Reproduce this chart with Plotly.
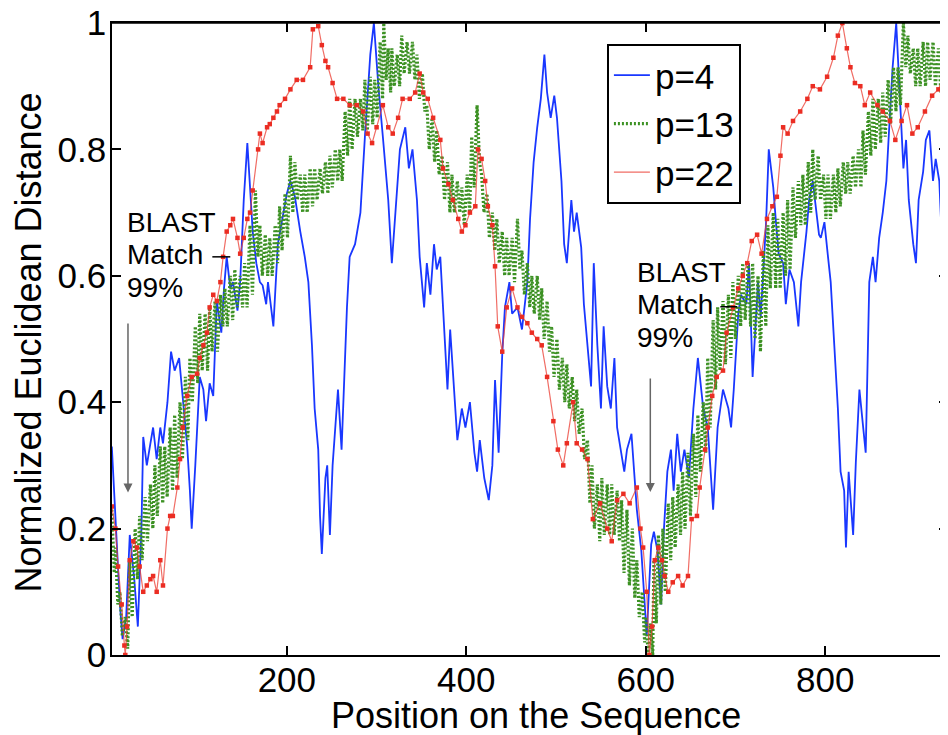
import plotly.graph_objects as go

# ---------------- data ----------------
blue_x = [5, 9, 12, 14, 17, 21, 25, 30, 34, 38, 40, 44, 48, 51, 55, 59, 62, 67, 71, 75,
          80, 84, 89, 92, 94, 98, 100, 103, 107, 110, 114, 118, 122, 127, 130, 133, 137, 140, 145, 148,
          152, 156, 159, 162, 166, 170, 173, 177, 179, 185, 190, 196, 200, 204, 209, 215, 220, 224, 228, 231,
          235, 237, 239, 243, 245, 248, 251, 257, 261, 267, 270, 276, 282, 287, 293, 297, 302, 307, 313, 317,
          323, 326, 332, 336, 340, 345, 348, 353, 356, 360, 364, 367, 371, 375, 379, 382, 386, 390, 395, 399,
          404, 409, 412, 415, 420, 425, 429, 432, 436, 440, 443, 448, 451, 457, 462, 468, 471, 475, 479, 483,
          487, 490, 494, 498, 501, 506, 509, 512, 517, 520, 523, 528, 531, 535, 539, 542, 546, 550, 553, 557,
          561, 565, 568, 572, 576, 579, 584, 587, 590, 595, 598, 601, 606, 609, 613, 617, 620, 624, 628, 631,
          635, 639, 643, 648, 653, 658, 664, 669, 675, 680, 686, 692, 695, 698, 703, 706, 712, 715, 719, 725,
          728, 734, 737, 742, 745, 748, 753, 756, 760, 765, 770, 773, 779, 782, 786, 790, 793, 795, 799, 803,
          806, 810, 814, 817, 821, 823, 826, 831, 834, 838, 842, 845, 849, 853, 856, 860, 864, 868, 871, 875,
          879, 882, 887, 890, 893, 898, 901, 904, 909, 912, 916, 920, 923, 927, 931, 935, 939]
blue_y = [0.33, 0.22, 0.15, 0.08, 0.025, 0.06, 0.19, 0.12, 0.045, 0.20, 0.345, 0.30, 0.335, 0.36, 0.31, 0.36, 0.335, 0.40, 0.48, 0.45,
          0.47, 0.41, 0.33, 0.26, 0.20, 0.30, 0.36, 0.44, 0.42, 0.37, 0.43, 0.41, 0.56, 0.51, 0.58, 0.63, 0.58, 0.59, 0.545, 0.59,
          0.72, 0.81, 0.74, 0.67, 0.62, 0.59, 0.585, 0.555, 0.59, 0.52, 0.65, 0.70, 0.73, 0.75, 0.725, 0.67, 0.63, 0.59, 0.49, 0.39,
          0.325, 0.22, 0.16, 0.28, 0.30, 0.19, 0.30, 0.42, 0.325, 0.55, 0.63, 0.65, 0.70, 0.82, 0.95, 1.0, 0.90, 0.82, 0.72, 0.62,
          0.74, 0.80, 0.835, 0.77, 0.80, 0.72, 0.63, 0.55, 0.62, 0.57, 0.65, 0.61, 0.63, 0.52, 0.42, 0.515, 0.435, 0.34, 0.39, 0.36,
          0.40, 0.32, 0.29, 0.34, 0.28, 0.245, 0.30, 0.435, 0.32, 0.475, 0.55, 0.59, 0.54, 0.55, 0.515, 0.59, 0.69, 0.78, 0.835, 0.88,
          0.95, 0.89, 0.85, 0.885, 0.85, 0.75, 0.65, 0.62, 0.72, 0.67, 0.70, 0.645, 0.555, 0.49, 0.425, 0.62, 0.49, 0.39, 0.52, 0.425,
          0.39, 0.47, 0.36, 0.325, 0.29, 0.325, 0.35, 0.29, 0.23, 0.165, 0.10, 0.03, 0.175, 0.195, 0.165, 0.08, 0.195, 0.29, 0.325, 0.26,
          0.35, 0.29, 0.325, 0.28, 0.39, 0.47, 0.39, 0.36, 0.23, 0.36, 0.42, 0.39, 0.36, 0.42, 0.54, 0.57, 0.555, 0.62, 0.44, 0.59,
          0.535, 0.685, 0.80, 0.74, 0.685, 0.635, 0.62, 0.555, 0.61, 0.59, 0.52, 0.59, 0.67, 0.72, 0.75, 0.70, 0.665, 0.66, 0.685, 0.63,
          0.59, 0.49, 0.39, 0.29, 0.26, 0.17, 0.29, 0.19, 0.305, 0.42, 0.36, 0.32, 0.59, 0.63, 0.59, 0.66, 0.70, 0.75, 0.83, 0.93,
          1.0, 0.915, 0.77, 0.815, 0.72, 0.65, 0.62, 0.72, 0.765, 0.815, 0.83, 0.75, 0.785, 0.75, 0.62, 0.555, 0.55]

green_x = [5, 9, 14, 20, 25, 31, 36, 42, 48, 53, 59, 64, 70, 75, 81, 87, 92, 98, 103, 109,
           114, 120, 126, 131, 137, 142, 148, 153, 159, 165, 170, 176, 181, 187, 192, 198, 204, 209, 215, 220,
           226, 231, 237, 243, 248, 254, 259, 265, 270, 276, 282, 287, 293, 298, 304, 308, 313, 317, 323, 328,
           334, 340, 345, 351, 356, 362, 367, 373, 379, 384, 390, 395, 401, 406, 412, 417, 423, 429, 434, 440,
           445, 451, 457, 462, 468, 473, 479, 484, 490, 495, 501, 507, 512, 518, 523, 529, 535, 540, 546, 551,
           557, 562, 568, 573, 579, 585, 590, 596, 600, 605, 609, 614, 619, 625, 630, 636, 641, 647, 653, 658,
           664, 669, 675, 680, 686, 692, 697, 703, 708, 714, 719, 725, 731, 736, 742, 747, 753, 758, 764, 770,
           775, 781, 786, 792, 798, 803, 809, 814, 820, 825, 831, 837, 842, 848, 853, 859, 864, 870, 876, 881,
           887, 892, 898, 903, 909, 914, 920, 926, 931]
green_hi = [0.23, 0.17, 0.10, 0.06, 0.15, 0.20, 0.22, 0.25, 0.27, 0.30, 0.33, 0.33, 0.36, 0.38, 0.40, 0.44, 0.47, 0.52, 0.54, 0.54,
            0.55, 0.56, 0.57, 0.58, 0.60, 0.61, 0.60, 0.62, 0.68, 0.735, 0.68, 0.665, 0.66, 0.68, 0.71, 0.73, 0.79, 0.78, 0.76, 0.76,
            0.77, 0.77, 0.77, 0.78, 0.79, 0.80, 0.80, 0.86, 0.88, 0.88, 0.88, 0.91, 0.915, 0.91, 0.97, 1.0, 0.96, 0.96, 0.95, 0.98,
            0.97, 0.97, 0.95, 0.92, 0.87, 0.85, 0.83, 0.79, 0.78, 0.76, 0.75, 0.74, 0.76, 0.82, 0.87, 0.76, 0.73, 0.70, 0.69, 0.67,
            0.66, 0.66, 0.69, 0.64, 0.62, 0.60, 0.60, 0.58, 0.56, 0.52, 0.50, 0.47, 0.46, 0.44, 0.42, 0.39, 0.34, 0.30, 0.27, 0.28,
            0.27, 0.27, 0.26, 0.245, 0.23, 0.20, 0.15, 0.10, 0.06, 0.05, 0.15, 0.19, 0.20, 0.24, 0.25, 0.27, 0.29, 0.32, 0.35, 0.38,
            0.40, 0.47, 0.53, 0.55, 0.56, 0.57, 0.59, 0.60, 0.62, 0.62, 0.62, 0.60, 0.64, 0.68, 0.70, 0.69, 0.70, 0.72, 0.74, 0.75,
            0.76, 0.78, 0.80, 0.79, 0.76, 0.76, 0.76, 0.77, 0.78, 0.78, 0.79, 0.80, 0.83, 0.86, 0.88, 0.88, 0.89, 0.91, 0.93, 0.93,
            1.0, 0.98, 0.96, 0.96, 0.97, 0.97, 0.97, 0.96, 0.95]
green_lo = [0.13, 0.08, 0.03, 0.01, 0.06, 0.12, 0.15, 0.18, 0.20, 0.22, 0.24, 0.25, 0.26, 0.28, 0.31, 0.34, 0.40, 0.43, 0.45, 0.45,
            0.48, 0.48, 0.52, 0.52, 0.53, 0.55, 0.55, 0.55, 0.57, 0.63, 0.60, 0.60, 0.60, 0.62, 0.64, 0.66, 0.70, 0.72, 0.70, 0.70,
            0.71, 0.72, 0.73, 0.73, 0.74, 0.75, 0.75, 0.79, 0.80, 0.82, 0.83, 0.83, 0.84, 0.85, 0.88, 0.91, 0.89, 0.90, 0.90, 0.92,
            0.92, 0.91, 0.88, 0.86, 0.80, 0.78, 0.76, 0.72, 0.70, 0.70, 0.70, 0.68, 0.70, 0.74, 0.78, 0.70, 0.66, 0.64, 0.62, 0.60,
            0.60, 0.59, 0.61, 0.57, 0.55, 0.54, 0.53, 0.50, 0.48, 0.44, 0.42, 0.40, 0.39, 0.37, 0.35, 0.31, 0.24, 0.20, 0.18, 0.19,
            0.19, 0.19, 0.18, 0.13, 0.11, 0.09, 0.06, 0.02, 0.0, 0.0, 0.05, 0.08, 0.10, 0.15, 0.17, 0.19, 0.20, 0.22, 0.25, 0.29,
            0.32, 0.36, 0.42, 0.45, 0.46, 0.47, 0.50, 0.52, 0.53, 0.52, 0.50, 0.48, 0.52, 0.58, 0.58, 0.58, 0.60, 0.61, 0.66, 0.68,
            0.68, 0.70, 0.72, 0.72, 0.69, 0.69, 0.70, 0.71, 0.73, 0.73, 0.74, 0.74, 0.76, 0.79, 0.80, 0.81, 0.82, 0.84, 0.86, 0.87,
            0.93, 0.92, 0.90, 0.90, 0.90, 0.91, 0.90, 0.89, 0.86]

red_x = [5, 9, 12, 16, 19, 20, 22, 25, 29, 33, 36, 40, 44, 48, 51, 55, 59, 62, 67, 70,
         73, 78, 81, 84, 89, 94, 100, 103, 107, 111, 114, 118, 122, 126, 129, 133, 137, 140, 145, 148,
         152, 156, 159, 162, 168, 170, 173, 178, 181, 185, 189, 192, 198, 204, 211, 218, 226, 229, 235, 239,
         243, 246, 251, 256, 263, 270, 278, 285, 290, 295, 300, 307, 313, 318, 324, 329, 337, 343, 348, 352,
         357, 363, 371, 374, 380, 385, 391, 395, 399, 404, 410, 413, 417, 421, 424, 429, 432, 435, 440, 445,
         451, 457, 462, 468, 473, 479, 484, 490, 497, 502, 508, 512, 519, 523, 529, 535, 541, 549, 557, 562,
         568, 575, 582, 590, 594, 597, 601, 604, 607, 610, 614, 618, 621, 625, 630, 636, 641, 647, 651, 657,
         660, 666, 669, 674, 679, 686, 690, 697, 703, 708, 713, 718, 724, 729, 735, 741, 746, 750, 753, 758,
         764, 772, 780, 786, 794, 802, 809, 814, 819, 824, 828, 833, 839, 844, 850, 858, 864, 872, 878, 885,
         891, 897, 903, 911, 919, 926, 933, 939]
red_y = [0.235, 0.20, 0.14, 0.08, 0.015, 0.0, 0.045, 0.15, 0.18, 0.17, 0.14, 0.10, 0.11, 0.12, 0.125, 0.10, 0.15, 0.11, 0.20, 0.22,
         0.22, 0.265, 0.31, 0.36, 0.41, 0.44, 0.445, 0.47, 0.49, 0.51, 0.55, 0.57, 0.56, 0.59, 0.63, 0.67, 0.68, 0.69, 0.66, 0.635,
         0.66, 0.69, 0.70, 0.735, 0.80, 0.825, 0.81, 0.835, 0.84, 0.85, 0.86, 0.87, 0.88, 0.895, 0.91, 0.91, 0.93, 0.99, 0.995, 0.965,
         0.94, 0.93, 0.905, 0.88, 0.88, 0.87, 0.87, 0.86, 0.825, 0.81, 0.835, 0.87, 0.835, 0.825, 0.85, 0.88, 0.88, 0.89, 0.92, 0.89,
         0.88, 0.85, 0.815, 0.77, 0.745, 0.72, 0.69, 0.67, 0.68, 0.70, 0.71, 0.80, 0.785, 0.75, 0.71, 0.68, 0.615, 0.52, 0.48, 0.55,
         0.58, 0.55, 0.535, 0.525, 0.51, 0.50, 0.49, 0.44, 0.37, 0.325, 0.30, 0.335, 0.40, 0.335, 0.325, 0.31, 0.215, 0.24, 0.20, 0.18,
         0.245, 0.255, 0.24, 0.265, 0.20, 0.17, 0.10, 0.0, 0.045, 0.15, 0.17, 0.15, 0.125, 0.10, 0.115, 0.125, 0.11, 0.125, 0.215, 0.22,
         0.265, 0.325, 0.36, 0.41, 0.44, 0.45, 0.51, 0.55, 0.58, 0.60, 0.62, 0.655, 0.665, 0.635, 0.69, 0.71, 0.725, 0.79, 0.835, 0.825,
         0.845, 0.86, 0.88, 0.90, 0.895, 0.915, 0.945, 0.98, 1.0, 0.96, 0.93, 0.905, 0.90, 0.87, 0.89, 0.87, 0.86, 0.845, 0.815, 0.845,
         0.87, 0.825, 0.835, 0.86, 0.885, 0.895, 0.92, 0.91]

x_ticks = [200, 400, 600, 800]
y_ticks = [0, 0.2, 0.4, 0.6, 0.8, 1]
y_tick_text = ["0", "0.2", "0.4", "0.6", "0.8", "1"]
series_names = ["p=4", "p=13", "p=22"]
x_title = "Position on the Sequence"
y_title = "Normalized Euclidean Distance"
note_lines = ["BLAST", "Match", "99%"]

# ---------------- figure ----------------
FONT = "Liberation Sans, Arial, Helvetica, sans-serif"
BLUE = "rgb(25,55,255)"
GREEN = "rgb(60,145,35)"
RED = "rgb(235,45,35)"

# green band: top and bottom of the hatched band, alternated
gx, gy = [], []
for x, hi, lo in zip(green_x, green_hi, green_lo):
    gx += [x, x + 2.7]
    gy += [hi, lo]

fig = go.Figure()
fig.add_trace(go.Scatter(x=blue_x, y=blue_y, mode="lines", name=series_names[0],
                         line=dict(color=BLUE, width=1.8)))
fig.add_trace(go.Scatter(x=gx, y=gy, mode="lines", name=series_names[1],
                         line=dict(color=GREEN, width=3.2, dash="2px,2px")))
fig.add_trace(go.Scatter(x=red_x, y=red_y, mode="lines", name=series_names[2],
                         line=dict(color="rgba(235,60,50,0.75)", width=1.2)))
fig.add_trace(go.Scatter(x=red_x, y=red_y, mode="markers", showlegend=False,
                         marker=dict(color=RED, size=4.5, symbol="square", line=dict(width=0))))

ax_common = dict(showline=True, linecolor="black", linewidth=1.5, mirror="ticks",
                 ticks="inside", ticklen=9, tickwidth=1.5, tickcolor="black",
                 showgrid=False, zeroline=False, automargin=False,
                 ticklabeloverflow="allow",
                 tickfont=dict(family=FONT, size=35, color="black"))

fig.update_xaxes(range=[5.2, 936.7], tickvals=x_ticks, ticklabelstandoff=-7, **ax_common)
fig.update_yaxes(range=[0, 1], tickvals=y_ticks, ticktext=y_tick_text, ticklabelstandoff=-3, **ax_common)

annotations = [
    dict(text=x_title, xref="paper", yref="paper", x=0.5066, y=-0.0956,
         xanchor="center", yanchor="middle", showarrow=False,
         font=dict(family=FONT, size=36, color="black")),
    dict(text=y_title, xref="paper", yref="paper", x=-0.0995, y=0.494, textangle=-90,
         xanchor="center", yanchor="middle", showarrow=False,
         font=dict(family=FONT, size=36, color="black")),
]
# BLAST notes
for (x0, ys) in [(20, [0.685, 0.633, 0.581]), (588, [0.606, 0.554, 0.503])]:
    for line, yy in zip(note_lines, ys):
        annotations.append(dict(text=line, x=x0, y=yy, xref="x", yref="y",
                                xanchor="left", yanchor="middle", showarrow=False,
                                font=dict(family=FONT, size=28, color="black")))
# arrows
for (xa, ytop, ybot) in [(23, 0.527, 0.257), (605, 0.44, 0.258)]:
    annotations.append(dict(x=xa, y=ybot, ax=xa, ay=ytop, xref="x", yref="y",
                            axref="x", ayref="y", text="", showarrow=True,
                            arrowhead=2, arrowsize=1.2, arrowwidth=1.5, arrowcolor="#666666"))

shapes = [
    dict(type="line", xref="x", yref="y", x0=117, x1=137, y0=0.63, y1=0.63,
         line=dict(color="black", width=1.5)),
    dict(type="line", xref="x", yref="y", x0=683, x1=702, y0=0.551, y1=0.551,
         line=dict(color="black", width=1.5)),
    # plot frame (top edge)
    dict(type="line", xref="paper", yref="paper", x0=0, x1=1, y0=1, y1=1,
         line=dict(color="black", width=1.5), layer="above"),
]

# The page body has an 8px margin: the figure is sized so that its plot area
# lands where the reference's is (x 112-948, y 22.5-655.5 in the window).
fig.update_layout(
    width=940, height=727,
    margin=dict(l=104, r=0, t=14.5, b=79.5, pad=0),
    paper_bgcolor="white", plot_bgcolor="white",
    font=dict(family=FONT, color="black"),
    showlegend=True,
    legend=dict(x=0.592, y=0.967, xanchor="left", yanchor="top",
                bgcolor="white", bordercolor="black", borderwidth=2,
                font=dict(family=FONT, size=35, color="black"),
                itemwidth=36, tracegroupgap=0),
    annotations=annotations,
    shapes=shapes,
)

fig.write_html("out.html")
